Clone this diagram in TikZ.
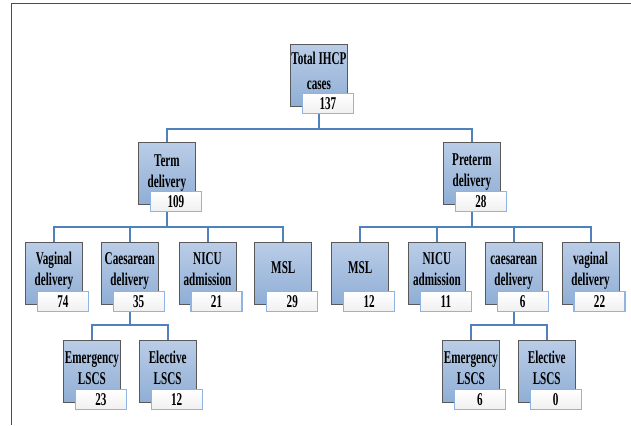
\documentclass[tikz,border=0pt]{standalone}
\usepackage{fontspec}
\usepackage{tikz}
\usetikzlibrary{positioning}
\newfontfamily\boxfont{Liberation Serif}[FakeStretch=0.62]
\definecolor{linkblue}{RGB}{79,129,189}
\definecolor{boxtop}{RGB}{186,205,231}
\definecolor{boxbot}{RGB}{143,174,213}
\definecolor{numedge}{RGB}{141,180,226}
% two-line label, first baseline set by the strut
\newcommand\boxlbl[2][22bp]{\parbox[c][62bp][t]{57bp}{\centering\rule{0pt}{#1}#2}}
\tikzset{
    %Define style for category boxes
    catbox/.style={
           rectangle,
           draw=black!65, line width=0.8bp,
           top color=boxtop, bottom color=boxbot,
           minimum width=57bp,
           minimum height=62bp,
           inner sep=0pt,
           font=\boxfont\bfseries\fontsize{18bp}{21bp}\selectfont},
    %Define style for count boxes
    numbox/.style={
           rectangle,
           draw=numedge, line width=1.2bp,
           top color=white, bottom color=black!6,
           minimum width=51bp,
           minimum height=20bp,
           inner sep=0pt,
           font=\boxfont\bfseries\fontsize{18bp}{18bp}\selectfont},
    % Define connector style
    link/.style={
           draw=linkblue,
           line width=2bp}
}
\begin{document}
\begin{tikzpicture}[x=1bp,y=-1bp,node distance=19bp]
\useasboundingbox (0,0) rectangle (631,425);
\draw[black!70] (631,3) -- (11,3) -- (11,425);
 %nodes
\node[catbox, anchor=north west] (tot) at (290,44) {\boxlbl[20bp]{Total IHCP\\[4bp]cases}};
\node[catbox, anchor=north west] (term) at (138,142) {\boxlbl[24bp]{Term\\delivery}};
\node[catbox, anchor=north west] (pre) at (443,142) {\boxlbl[23bp]{Preterm\\delivery}};
\node[catbox, anchor=north west] (tvag) at (25,242) {\boxlbl{Vaginal\\delivery}};
\node[catbox, right=18bp of tvag] (tcae) {\boxlbl{Caesarean\\delivery}};
\node[catbox, right=20bp of tcae] (tnicu) {\boxlbl{NICU\\admission}};
\node[catbox, right=18bp of tnicu] (tmsl) {\boxlbl[31bp]{MSL}};
\node[catbox, right=19bp of tmsl] (pmsl) {\boxlbl[31bp]{MSL}};
\node[catbox, right=19bp of pmsl] (pnicu) {\boxlbl{NICU\\admission}};
\node[catbox, right=19bp of pnicu] (pcae) {\boxlbl{caesarean\\delivery}};
\node[catbox, right=19bp of pcae] (pvag) {\boxlbl{vaginal\\delivery}};
\node[catbox, anchor=north west] (temg) at (63,340) {\boxlbl[23bp]{Emergency\\LSCS}};
\node[catbox, right=18bp of temg] (tele) {\boxlbl[23bp]{Elective\\LSCS}};
\node[catbox, anchor=north west] (pemg) at (442,340) {\boxlbl[23bp]{Emergency\\LSCS}};
\node[catbox, right=18bp of pemg] (pele) {\boxlbl[23bp]{Elective\\LSCS}};
 %counts
\foreach \b/\n in {tot/137,term/109,pre/28,tvag/74,tcae/35,tnicu/21,tmsl/29,
    pmsl/12,pnicu/11,pcae/6,pvag/22,temg/23,tele/12,pemg/6,pele/0}
  \node[numbox] (\b n) at ([xshift=9bp,yshift=3bp]\b.south) {\n};
 %connectors
\draw[link] (tot.south |- totn.south) -- ++(0,14.5) coordinate (b1);
\draw[link] (term.north) |- (b1) -| (pre.north);
\draw[link] (term.south |- termn.south) -- ++(0,15) coordinate (b2);
\draw[link] (tvag.north) |- (b2) -| (tmsl.north);
\draw[link] (tcae.north) -- (tcae.north |- b2);
\draw[link] (tnicu.north) -- (tnicu.north |- b2);
\draw[link] (pre.south |- pren.south) -- ++(0,15) coordinate (b3);
\draw[link] (pmsl.north) |- (b3) -| (pvag.north);
\draw[link] (pnicu.north) -- (pnicu.north |- b3);
\draw[link] (pcae.north) -- (pcae.north |- b3);
\draw[link] (tcae.south |- tcaen.south) -- ++(0,13) coordinate (b4);
\draw[link] (temg.north) |- (b4) -| (tele.north);
\draw[link] (pcae.south |- pcaen.south) -- ++(0,13) coordinate (b5);
\draw[link] (pemg.north) |- (b5) -| (pele.north);
\end{tikzpicture}
\end{document}
